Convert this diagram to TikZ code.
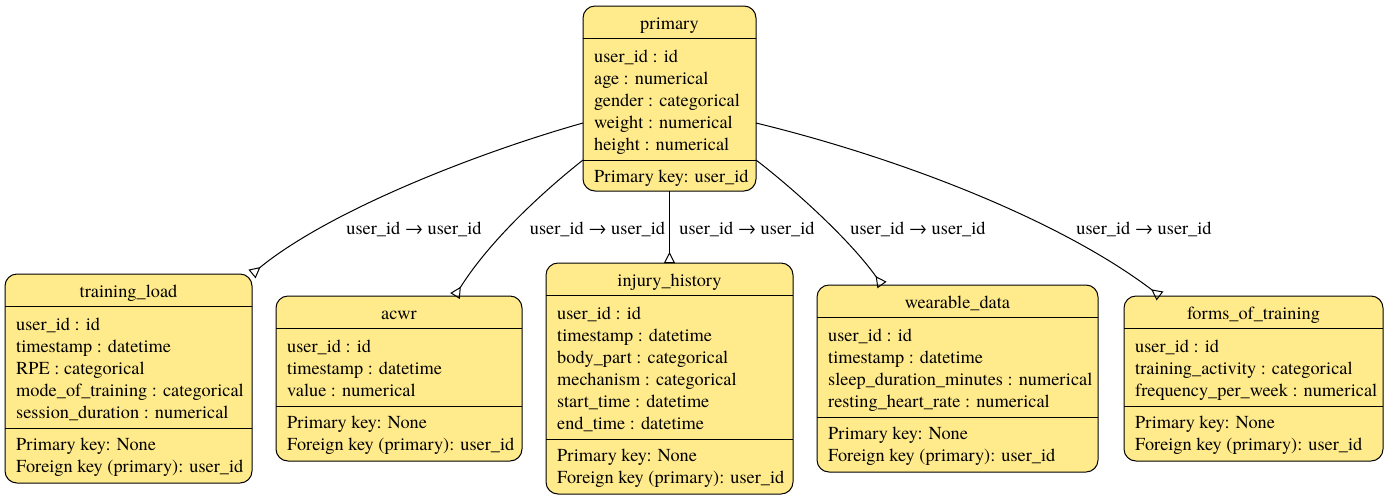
\documentclass[tikz,border=0pt]{standalone}
\usepackage{fontspec}
\setmainfont{TeX Gyre Termes}
\usetikzlibrary{arrows.meta}
\definecolor{entfill}{HTML}{FFEB8B}
\tikzset{
  entbox/.style={draw=black, fill=entfill, line width=1pt, rounded corners=12pt, inner sep=0pt, outer sep=0pt, rectangle},
  titletext/.style={anchor=base, inner sep=0pt, font=\fontsize{18.3}{22}\selectfont},
  rowtext/.style={anchor=base west, inner sep=0pt, font=\fontsize{18.3}{22}\selectfont},
  lbl/.style={anchor=base, inner sep=0pt, font=\fontsize{18.3}{22}\selectfont},
  sepline/.style={line width=1pt},
  fkedge/.style={line width=1pt, -{Triangle[open,reversed,length=11pt,width=11pt,line width=1pt]}}
}
% #1 name, #2 left, #3 top, #4 right, #5 bottom, #6 title, #7 rows, #8 number of rows, #9 key rows
\newcommand\erentity[9]{%
  \node[entbox, minimum width={#4-#2}, minimum height={#5-#3}] (#1) at ({(#2+#4)/2},{(#3+#5)/2}) {};
  \node[titletext] (#1-title) at ({(#2+#4)/2},{#3+23}) {#6};
  \draw[sepline] (#1.west |- 0,{#3+32.5}) -- (#1.east |- 0,{#3+32.5});
  \foreach \r [count=\i] in {#7} {\node[rowtext] (#1-r\i) at ({#2+11},{#3+56+22*(\i-1)}) {\r};}
  \draw[sepline] (#1.west |- 0,{#3+56+22*(#8-1)+10}) -- (#1.east |- 0,{#3+56+22*(#8-1)+10});
  \foreach \k [count=\j] in {#9} {\node[rowtext] (#1-k\j) at ({#2+11},{#3+56+22*(#8-1)+10+22*\j}) {\k};}
}
\begin{document}
\begin{tikzpicture}[x=1pt,y=-1pt]
\useasboundingbox (0,0) rectangle (1389,499);
\erentity{primary}{583}{6}{756}{191}{primary}%
  {{user\_id : id},{age : numerical},{gender : categorical},{weight : numerical},{height : numerical}}{5}%
  {{Primary key: user\_id}}
\erentity{tl}{5}{274}{252}{483}{training\_load}%
  {{user\_id : id},{timestamp : datetime},{RPE : categorical},{mode\_of\_training : categorical},{session\_duration : numerical}}{5}%
  {{Primary key: None},{Foreign key (primary): user\_id}}
\erentity{acwr}{276}{296}{522}{461}{acwr}%
  {{user\_id : id},{timestamp : datetime},{value : numerical}}{3}%
  {{Primary key: None},{Foreign key (primary): user\_id}}
\erentity{ih}{546}{263}{793}{494}{injury\_history}%
  {{user\_id : id},{timestamp : datetime},{body\_part : categorical},{mechanism : categorical},{start\_time : datetime},{end\_time : datetime}}{6}%
  {{Primary key: None},{Foreign key (primary): user\_id}}
\erentity{wd}{817}{285}{1098}{472}{wearable\_data}%
  {{user\_id : id},{timestamp : datetime},{sleep\_duration\_minutes : numerical},{resting\_heart\_rate : numerical}}{4}%
  {{Primary key: None},{Foreign key (primary): user\_id}}
\erentity{ft}{1124}{296}{1383}{461}{forms\_of\_training}%
  {{user\_id : id},{training\_activity : categorical},{frequency\_per\_week : numerical}}{3}%
  {{Primary key: None},{Foreign key (primary): user\_id}}
% connectors
\draw[fkedge] (primary.west |- 0,123) .. controls (480,152) and (330,210) .. (tl.north east);
\draw[fkedge] (primary.west |- 0,160) .. controls (545,190) and (490,240) .. (455,0 |- acwr.north);
\draw[fkedge] (primary.south) -- (ih.north);
\draw[fkedge] (primary.east |- 0,160) .. controls (795,190) and (850,240) .. (882,0 |- wd.north);
\draw[fkedge] (primary.east |- 0,123) .. controls (900,158) and (1060,220) .. (1160,0 |- ft.north);
% labels
\node[lbl] (l1) at (414,234) {user\_id → user\_id};
\node[lbl] (l2) at (597.5,234) {user\_id → user\_id};
\node[lbl] (l3) at (747,234) {user\_id → user\_id};
\node[lbl] (l4) at (918,234) {user\_id → user\_id};
\node[lbl] (l5) at (1144,234) {user\_id → user\_id};
\end{tikzpicture}
\end{document}
